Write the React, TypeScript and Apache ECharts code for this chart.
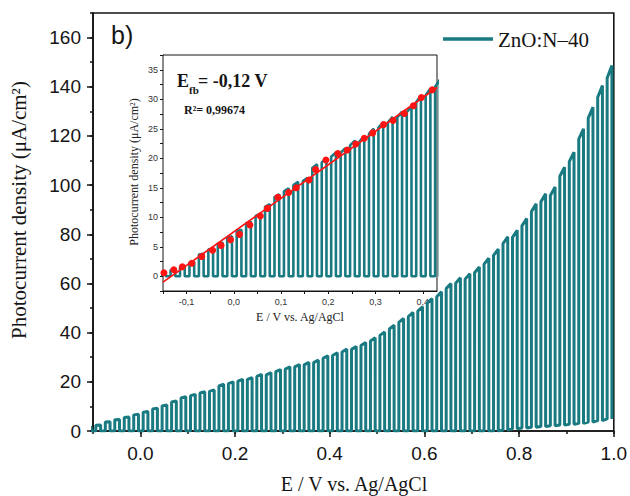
import React, { useEffect, useRef } from 'react';
import * as echarts from 'echarts';

const seriesName = 'ZnO:N–40';

// potential at the end of each light-on pulse (V vs. Ag/AgCl)
const pulsePeakE = [
  -0.144, -0.124, -0.104, -0.084, -0.064, -0.044, -0.024, -0.004, 0.016, 0.036,
  0.056, 0.076, 0.096, 0.116, 0.136, 0.156, 0.176, 0.196, 0.216, 0.236,
  0.256, 0.276, 0.296, 0.316, 0.336, 0.356, 0.376, 0.396, 0.416, 0.436,
  0.456, 0.476, 0.496, 0.516, 0.536, 0.556, 0.576, 0.596, 0.616, 0.636,
  0.656, 0.676, 0.696, 0.716, 0.736, 0.756, 0.776, 0.796, 0.816, 0.836,
  0.856, 0.876, 0.896, 0.916, 0.936, 0.956, 0.976, 0.996,
];
// photocurrent under illumination (µA/cm²)
const lightPeak = [
  0.5, 1.1, 1.6, 2.4, 3.8, 4.7, 5.7, 6.8, 7.9, 9.3,
  10.6, 12.2, 13.9, 14.9, 16.0, 16.7, 19.0, 20.0, 21.0, 21.7,
  23.0, 23.7, 25.0, 26.1, 27.0, 27.9, 28.8, 30.6, 31.8, 33.3,
  34.4, 36.0, 37.9, 40.3, 43.0, 45.8, 48.2, 50.5, 53.9, 56.6,
  60.0, 62.3, 64.0, 66.7, 70.3, 74.0, 79.0, 81.6, 86.4, 92.4,
  96.5, 99.2, 107.3, 113.4, 122.9, 131.7, 140.5, 148.6,
];
// dark current after each pulse (µA/cm²)
const darkCurrent = [
  0, 0, 0, 0, 0, 0, 0, 0, 0, 0,
  0, 0, 0, 0, 0, 0, 0, 0, 0, 0,
  0, 0, 0, 0, 0, 0, 0, 0, 0, 0,
  0, 0, 0, 0, 0, 0, 0, 0, 0, 0,
  0, 0, 0, 0, 0, 0, 0.4, 0.9, 1.2, 1.5,
  1.8, 2.1, 2.4, 2.7, 3.1, 3.6, 4.2, 4.9,
];
const lightOnWidth = 0.01;
const riseFraction = 0.965;

// inset: points used for the linear fit
const insetDotE = [
  -0.148, -0.127, -0.109, -0.089, -0.068, -0.045, -0.027, -0.007, 0.012, 0.034,
  0.056, 0.071, 0.093, 0.116, 0.132, 0.159, 0.173, 0.195, 0.22, 0.24,
  0.258, 0.276, 0.294, 0.317, 0.337, 0.361, 0.38, 0.397, 0.42,
];
const insetDotJ = [
  0.6, 1.1, 1.6, 2.2, 3.35, 4.4, 5.2, 6.2, 7.1, 8.7,
  10.2, 11.5, 13.4, 14.2, 15.0, 16.3, 18.1, 19.7, 20.8, 21.4,
  22.4, 23.4, 24.3, 25.7, 26.4, 27.6, 28.9, 30.3, 31.6,
];
const fitLineE = [-0.15, 0.43];
const fitLineJ = [-1.0, 32.0];

const mainXLabels = [0, 0.2, 0.4, 0.6, 0.8, 1.0];
const mainYLabels = [0, 20, 40, 60, 80, 100, 120, 140, 160];
const insetXTicks = [-0.15, -0.1, -0.05, 0, 0.05, 0.1, 0.15, 0.2, 0.25, 0.3, 0.35, 0.4];
const insetXLabels = [-0.1, 0, 0.1, 0.2, 0.3, 0.4];
const insetYTicks = [-2.5, 0, 2.5, 5, 7.5, 10, 12.5, 15, 17.5, 20, 22.5, 25, 27.5, 30, 32.5, 35, 37.5];
const insetYLabels = [0, 5, 10, 15, 20, 25, 30, 35];

const TEAL = '#197a82';
const RED = '#ff1414';
const INK = '#151515';

function buildWave(): number[][] {
  const out: number[][] = [];
  pulsePeakE.forEach((e, i) => {
    const on = e - lightOnWidth;
    const d = darkCurrent[i];
    const p = lightPeak[i];
    out.push([on, d]);
    out.push([on, d + (p - d) * riseFraction]);
    out.push([e, p]);
    out.push([e, d]);
  });
  return out;
}

export default function App() {
  const ref = useRef<HTMLDivElement>(null);
  useEffect(() => {
    if (!ref.current) return;
    const chart = echarts.init(ref.current, undefined, { renderer: 'svg' });
    const wave = buildWave();
    const dots = insetDotE.map((e, i) => [e, insetDotJ[i]]);
    const fit = fitLineE.map((e, i) => [e, fitLineJ[i]]);
    const sans = 'Liberation Sans';
    const serif = 'Liberation Serif';
    const axisLine = { show: true, onZero: false, lineStyle: { color: INK, width: 1.6 } };
    const insetLine = { show: true, onZero: false, lineStyle: { color: INK, width: 1 } };

    chart.setOption({
      animation: false,
      backgroundColor: '#fff',
      grid: [
        { left: 93, right: 14, top: 13, bottom: 65, show: true, borderColor: INK, borderWidth: 1.6, backgroundColor: 'transparent' },
        { left: 163, top: 55, width: 274, height: 236, show: true, borderColor: INK, borderWidth: 1, backgroundColor: '#fff', z: 1 },
      ],
      xAxis: [
        {
          type: 'value', gridIndex: 0, min: -0.1, max: 1.0, interval: 0.1,
          axisLine, axisTick: { show: true, length: 3, lineStyle: { color: INK, width: 1.5 } },
          axisLabel: { show: false }, splitLine: { show: false },
        },
        {
          type: 'value', gridIndex: 0, min: -0.1, max: 1.0, position: 'bottom',
          axisLine: { show: false, onZero: false },
          axisTick: { show: true, length: 6, customValues: mainXLabels, lineStyle: { color: INK, width: 1.5 } },
          axisLabel: { show: true, customValues: mainXLabels, formatter: (v: number) => v.toFixed(1), fontFamily: sans, fontSize: 19, color: INK, margin: 13 },
          splitLine: { show: false },
        },
        {
          type: 'value', gridIndex: 1, min: -0.15, max: 0.43,
          axisLine: insetLine,
          axisTick: { show: true, length: 3, customValues: insetXTicks, lineStyle: { color: INK, width: 1 } },
          axisLabel: { show: true, customValues: insetXLabels, formatter: (v: number) => v.toFixed(1).replace('.', ','), fontFamily: sans, fontSize: 9, color: '#333', margin: 6 },
          splitLine: { show: false },
        },
      ],
      yAxis: [
        {
          type: 'value', gridIndex: 0, min: 0, max: 170, interval: 10,
          axisLine, axisTick: { show: true, length: 3, lineStyle: { color: INK, width: 1.5 } },
          axisLabel: { show: false }, splitLine: { show: false },
        },
        {
          type: 'value', gridIndex: 0, min: 0, max: 170, position: 'left',
          axisLine: { show: false, onZero: false },
          axisTick: { show: true, length: 6, customValues: mainYLabels, lineStyle: { color: INK, width: 1.5 } },
          axisLabel: { show: true, customValues: mainYLabels, fontFamily: sans, fontSize: 19, color: INK, margin: 12 },
          splitLine: { show: false },
        },
        {
          type: 'value', gridIndex: 1, min: -2.5, max: 37.5,
          axisLine: insetLine,
          axisTick: { show: true, length: 3, customValues: insetYTicks, lineStyle: { color: INK, width: 1 } },
          axisLabel: { show: true, customValues: insetYLabels, fontFamily: sans, fontSize: 9, color: '#333', margin: 5 },
          splitLine: { show: false },
        },
      ],
      series: [
        {
          name: seriesName, type: 'line', xAxisIndex: 0, yAxisIndex: 0, data: wave,
          symbol: 'none', showSymbol: false, lineStyle: { color: TEAL, width: 3 }, itemStyle: { color: TEAL }, z: 3, clip: true,
        },
        {
          name: 'inset', type: 'line', xAxisIndex: 2, yAxisIndex: 2, data: wave,
          symbol: 'none', showSymbol: false, lineStyle: { color: TEAL, width: 2.6 }, itemStyle: { color: TEAL }, z: 5, clip: true,
        },
        {
          name: 'points', type: 'scatter', xAxisIndex: 2, yAxisIndex: 2, data: dots,
          symbol: 'circle', symbolSize: 7, itemStyle: { color: RED, opacity: 1 }, z: 6,
        },
        {
          name: 'fit', type: 'line', xAxisIndex: 2, yAxisIndex: 2, data: fit,
          symbol: 'none', showSymbol: false, lineStyle: { color: RED, width: 1.7 }, z: 7, clip: true,
        },
      ],
      graphic: [
        { type: 'rect', shape: { x: 443, y: 37.3, width: 50, height: 3.4 }, style: { fill: TEAL } },
        { type: 'text', x: 498, y: 39.5, style: { text: seriesName, fontFamily: serif, fontSize: 21, fill: INK, align: 'left', verticalAlign: 'middle' } },
        { type: 'text', x: 111, y: 35, style: { text: 'b)', fontFamily: sans, fontSize: 25, fill: INK, align: 'left', verticalAlign: 'middle' } },
        { type: 'text', x: 19, y: 210, rotation: Math.PI / 2, style: { text: 'Photocurrent density (μA/cm²)', fontFamily: serif, fontSize: 21, fill: INK, align: 'center', verticalAlign: 'middle' } },
        { type: 'text', x: 354, y: 484, style: { text: 'E / V vs. Ag/AgCl', fontFamily: serif, fontSize: 20, fill: INK, align: 'center', verticalAlign: 'middle' } },
        { type: 'text', x: 134, y: 172, rotation: Math.PI / 2, z: 10, style: { text: 'Photocurrent density (μA/cm²)', fontFamily: serif, fontSize: 12, fill: '#222', align: 'center', verticalAlign: 'middle' } },
        { type: 'text', x: 300, y: 317, z: 10, style: { text: 'E / V vs. Ag/AgCl', fontFamily: serif, fontSize: 12, fill: '#222', align: 'center', verticalAlign: 'middle' } },
        { type: 'text', x: 177, y: 81, z: 10, style: { text: 'E', fontFamily: serif, fontWeight: 'bold', fontSize: 18, fill: INK, align: 'left', verticalAlign: 'middle' } },
        { type: 'text', x: 189, y: 89.5, z: 10, style: { text: 'fb', fontFamily: serif, fontWeight: 'bold', fontSize: 11, fill: INK, align: 'left', verticalAlign: 'middle' } },
        { type: 'text', x: 198, y: 81, z: 10, style: { text: '= -0,12 V', fontFamily: serif, fontWeight: 'bold', fontSize: 18, fill: INK, align: 'left', verticalAlign: 'middle' } },
        { type: 'text', x: 184, y: 110, z: 10, style: { text: 'R²= 0,99674', fontFamily: serif, fontWeight: 'bold', fontSize: 12, fill: INK, align: 'left', verticalAlign: 'middle' } },
      ],
    });
    return () => chart.dispose();
  }, []);
  return <div ref={ref} style={{ position: 'fixed', left: 0, top: 0, width: 630, height: 496 }} />;
}
